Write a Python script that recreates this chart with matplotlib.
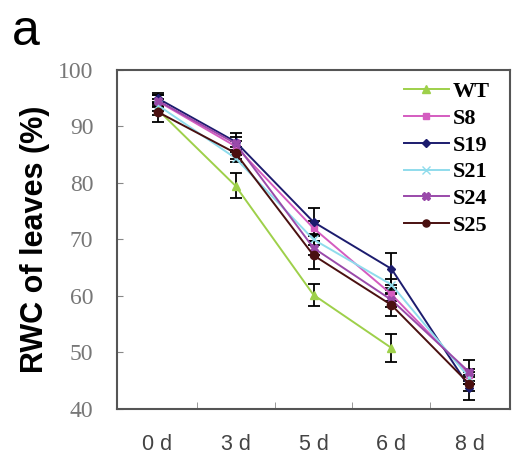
import numpy as np
import matplotlib
matplotlib.use("Agg")
import matplotlib.pyplot as plt

days = ["0 d", "3 d", "5 d", "6 d", "8 d"]
series_names = ["WT", "S8", "S19", "S21", "S24", "S25"]
wt = [93.0, 79.5, 60.2, 50.8, np.nan]
s8 = [94.5, 86.5, 72.0, 60.3, 46.0]
s19 = [95.0, 87.3, 73.1, 64.8, 43.8]
s21 = [93.8, 84.4, 70.0, 62.0, 45.5]
s24 = [94.6, 87.0, 68.5, 59.3, 46.5]
s25 = [92.6, 85.3, 67.2, 58.4, 44.4]
wt_err = [1.0, 2.2, 2.0, 2.5, 0]
s8_err = [1.0, 1.0, 1.2, 1.2, 1.0]
s19_err = [0.9, 1.6, 2.4, 2.8, 2.2]
s21_err = [1.0, 0.6, 1.0, 1.0, 1.0]
s24_err = [1.0, 1.2, 1.2, 1.2, 2.1]
s25_err = [1.8, 1.0, 2.5, 2.0, 1.2]
yticks = [40, 50, 60, 70, 80, 90, 100]

values = [wt, s8, s19, s21, s24, s25]
errs = [wt_err, s8_err, s19_err, s21_err, s24_err, s25_err]
colors = ["#9ed04a", "#d45cc0", "#1c1c6e", "#8fdcec", "#9a4aaa", "#4a1010"]
markers = ["^", "s", "D", "x", "X", "o"]
msizes = [6, 5, 4.5, 6, 6, 6]

fig = plt.figure(figsize=(5.14, 4.61), dpi=100)
ax = fig.add_axes([117/514, 1-409/461, (510-117)/514, (409-70)/461])

x = np.arange(len(days))
for v, e, c, m, ms, name in zip(values, errs, colors, markers, msizes, series_names):
    v = np.array(v, dtype=float)
    e = np.array(e, dtype=float)
    ax.errorbar(x, v, yerr=e, fmt="none", ecolor="black", elinewidth=1.3,
                capsize=4, capthick=1.3, zorder=2)
    ax.plot(x, v, color=c, marker=m, markersize=ms, linewidth=1.4,
            markeredgecolor=c, label=name, zorder=3)

ax.set_xlim(-0.52, 4.52)
ax.set_ylim(40, 100)
ax.set_yticks(yticks)
ax.set_yticklabels([str(t) for t in yticks], fontfamily="Liberation Serif",
                   fontsize=17, color="#777777")
ax.set_xticks(x)
ax.set_xticklabels(days, fontfamily="Liberation Sans", fontsize=15.5, color="#444444")
ax.set_xticks(x[:-1] + 0.5, minor=True)
ax.tick_params(axis="x", which="major", length=0, pad=18)
ax.tick_params(axis="x", which="minor", direction="in", length=5, color="#888888")
ax.tick_params(axis="y", which="major", direction="in", length=4, color="#888888", pad=17)
for sp in ax.spines.values():
    sp.set_color("#555555")
    sp.set_linewidth(1.5)

ax.set_ylabel("RWC of leaves (%)", fontfamily="Liberation Sans", fontweight="bold",
              fontsize=22, labelpad=6)

leg = ax.legend(loc="upper right", bbox_to_anchor=(1.0, 1.025), frameon=False,
                prop={"family": "Liberation Serif", "size": 16, "weight": "bold"},
                handlelength=2.0, handletextpad=0.2, labelspacing=0.28,
                borderaxespad=0.5, markerscale=0.85)

fig.text(12/514, 1-45/461, "a", fontfamily="Liberation Sans", fontsize=36)

fig.savefig("out.png", dpi=100)
